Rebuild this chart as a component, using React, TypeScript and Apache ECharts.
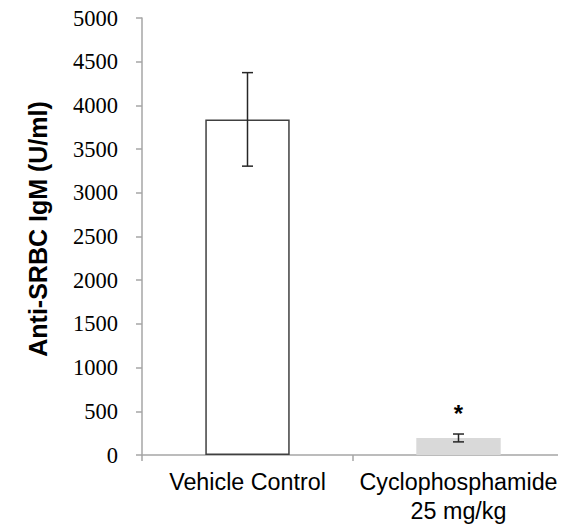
import React, { useEffect, useRef } from "react";
import * as echarts from "echarts";

const categories = ["Vehicle Control", "Cyclophosphamide\n25 mg/kg"];
const means = [3840, 195];
const lowerBounds = [3305, 150];
const upperBounds = [4375, 240];
const significance = ["", "*"];
const barFills = ["#ffffff", "#d9d9d9"];
const barBorders = ["#404040", "#d9d9d9"];
const yTicks = { min: 0, max: 5000, interval: 500 };

const SERIF = "Liberation Serif";
const SANS = "Liberation Sans";

export default function App() {
  const ref = useRef<HTMLDivElement>(null);
  useEffect(() => {
    if (!ref.current) return;
    const chart = echarts.init(ref.current, undefined, { renderer: "svg" });
    const errData = categories.map((_, i) => [i, lowerBounds[i], upperBounds[i], significance[i]]);
    chart.setOption({
      animation: false,
      backgroundColor: "#ffffff",
      textStyle: { fontFamily: SERIF },
      grid: { left: 142, right: 2, top: 18, bottom: 71, containLabel: false },
      xAxis: {
        type: "category",
        data: categories,
        boundaryGap: true,
        axisLine: { show: true, lineStyle: { color: "#a6a6a6", width: 1.5 } },
        axisTick: { show: true, length: 6, alignWithLabel: false, lineStyle: { color: "#a6a6a6", width: 1.5 } },
        axisLabel: {
          color: "#000000",
          fontFamily: SANS,
          fontSize: 23.3,
          lineHeight: 29,
          margin: 12,
          interval: 0,
        },
      },
      yAxis: {
        type: "value",
        min: yTicks.min,
        max: yTicks.max,
        interval: yTicks.interval,
        name: "Anti-SRBC IgM (U/ml)",
        nameLocation: "middle",
        nameGap: 92,
        nameRotate: 90,
        nameTextStyle: {
          color: "#000000",
          fontFamily: SANS,
          fontWeight: "bold",
          fontSize: 25,
          padding: [0, 0, 0, 15],
        },
        axisLine: { show: true, lineStyle: { color: "#a6a6a6", width: 1.5 } },
        axisTick: { show: true, length: 6, lineStyle: { color: "#a6a6a6", width: 1.5 } },
        splitLine: { show: false },
        axisLabel: {
          color: "#000000",
          fontSize: 22,
          margin: 24,
          formatter: (v: number) => "{s|" + v + "}",
          rich: {
            s: { fontFamily: SERIF, fontSize: 22.5, color: "#000000" },
          },
        },
      },
      series: [
        {
          type: "bar",
          barWidth: "40%",
          data: means.map((v, i) => ({
            value: v,
            itemStyle: { color: barFills[i], borderColor: barBorders[i], borderWidth: i === 0 ? 1.5 : 0 },
          })),
          z: 2,
        },
        {
          type: "custom",
          z: 5,
          data: errData,
          encode: { x: 0, y: [1, 2] },
          renderItem: (params: any, api: any) => {
            const i = api.value(0);
            const lo = api.coord([i, api.value(1)]);
            const hi = api.coord([i, api.value(2)]);
            const cap = 5.5;
            const style = { stroke: "#262626", lineWidth: 1.5 };
            const sig = significance[params.dataIndex];
            const children: any[] = [
              { type: "line", shape: { x1: lo[0], y1: lo[1], x2: hi[0], y2: hi[1] }, style },
              { type: "line", shape: { x1: hi[0] - cap, y1: hi[1], x2: hi[0] + cap, y2: hi[1] }, style },
              { type: "line", shape: { x1: lo[0] - cap, y1: lo[1], x2: lo[0] + cap, y2: lo[1] }, style },
            ];
            if (sig) {
              children.push({
                type: "text",
                x: hi[0],
                y: hi[1] - 9,
                style: {
                  text: sig,
                  fill: "#000000",
                  fontFamily: SANS,
                  fontWeight: "bold",
                  fontSize: 24,
                  align: "center",
                  verticalAlign: "bottom",
                },
              });
            }
            return { type: "group", children };
          },
        },
      ],
    });
    return () => chart.dispose();
  }, []);
  return <div ref={ref} style={{ width: 566, height: 526, marginLeft: -8, marginTop: -8 }} />;
}
